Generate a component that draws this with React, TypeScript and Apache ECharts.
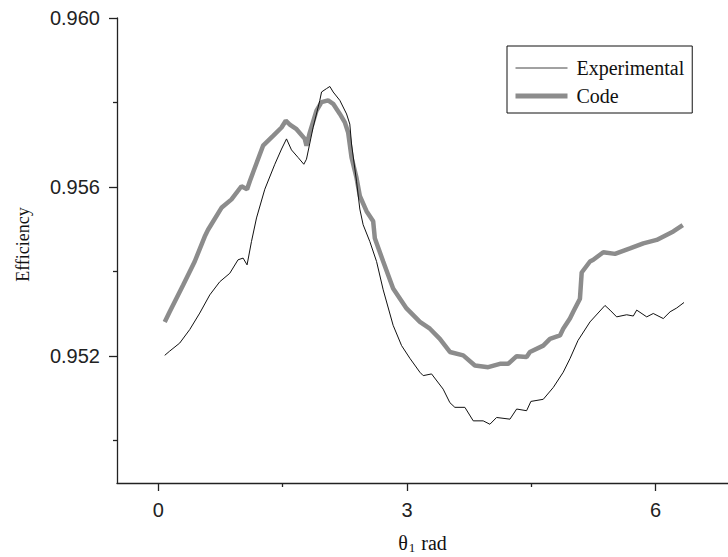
import { useEffect, useRef } from 'react';
import * as echarts from 'echarts';

// Experimental efficiency vs theta_1 (rad)
const expTheta = [
  0.076, 0.136, 0.257, 0.378, 0.499, 0.620, 0.740, 0.861, 0.961, 1.022, 1.070, 1.123,
  1.184, 1.284, 1.405, 1.486, 1.546, 1.606, 1.686, 1.755, 1.787, 1.867, 1.948, 1.969,
  2.029, 2.069, 2.109, 2.190, 2.271, 2.310, 2.331, 2.391, 2.431, 2.471, 2.552, 2.633,
  2.713, 2.833, 2.935, 3.035, 3.156, 3.196, 3.297, 3.437, 3.518, 3.578, 3.699, 3.800,
  3.920, 4.001, 4.082, 4.243, 4.324, 4.444, 4.496, 4.645, 4.766, 4.886, 4.967, 5.064,
  5.209, 5.390, 5.451, 5.531, 5.652, 5.732, 5.773, 5.894, 5.973, 6.094, 6.176, 6.256, 6.344,
];
const expEff = [
  0.95202, 0.95212, 0.95231, 0.95263, 0.95302, 0.95345, 0.95376, 0.95396, 0.95428, 0.95432, 0.95416, 0.95471,
  0.95527, 0.95595, 0.95654, 0.95690, 0.95714, 0.95688, 0.95670, 0.95654, 0.95666, 0.95741, 0.95805, 0.95825,
  0.95833, 0.95838, 0.95825, 0.95805, 0.95773, 0.95749, 0.95702, 0.95614, 0.95548, 0.95511, 0.95471, 0.95424,
  0.95357, 0.95273, 0.95225, 0.95195, 0.95162, 0.95154, 0.95158, 0.95122, 0.95090, 0.95079, 0.95079, 0.95047,
  0.95047, 0.95039, 0.95055, 0.95051, 0.95075, 0.95071, 0.95093, 0.95098, 0.95126, 0.95162, 0.95194, 0.95237,
  0.95281, 0.95320, 0.95309, 0.95293, 0.95298, 0.95295, 0.95309, 0.95293, 0.95301, 0.95289, 0.95305, 0.95314, 0.95327,
];

// Code (model) efficiency vs theta_1 (rad)
const codeTheta = [
  0.076, 0.136, 0.297, 0.438, 0.559, 0.599, 0.761, 0.882, 1.002, 1.070, 1.103, 1.263,
  1.384, 1.486, 1.537, 1.586, 1.667, 1.767, 1.787, 1.827, 1.908, 1.969, 2.048, 2.109,
  2.190, 2.250, 2.290, 2.331, 2.391, 2.431, 2.512, 2.592, 2.612, 2.713, 2.833, 2.995,
  3.156, 3.277, 3.397, 3.518, 3.679, 3.820, 3.981, 4.122, 4.222, 4.324, 4.444, 4.484,
  4.645, 4.726, 4.847, 4.886, 4.967, 5.007, 5.088, 5.109, 5.209, 5.249, 5.370, 5.511,
  5.692, 5.853, 6.014, 6.215, 6.329,
];
const codeEff = [
  0.95281, 0.95305, 0.95368, 0.95424, 0.95483, 0.95499, 0.95551, 0.95571, 0.95602, 0.95595, 0.95614, 0.95698,
  0.95721, 0.95741, 0.95757, 0.95748, 0.95737, 0.95714, 0.95698, 0.95729, 0.95781, 0.95801, 0.95805, 0.95797,
  0.95773, 0.95753, 0.95729, 0.95670, 0.95622, 0.95579, 0.95543, 0.95519, 0.95479, 0.95424, 0.95360, 0.95313,
  0.95281, 0.95265, 0.95241, 0.95210, 0.95202, 0.95178, 0.95174, 0.95182, 0.95182, 0.95200, 0.95198, 0.95210,
  0.95225, 0.95241, 0.95249, 0.95265, 0.95289, 0.95305, 0.95336, 0.95398, 0.95424, 0.95428, 0.95446, 0.95442,
  0.95455, 0.95467, 0.95475, 0.95495, 0.95510,
];

const yLabelTicks = [0.952, 0.956, 0.96];
const yMinorTicks = [0.95, 0.954, 0.958];
const xLabelTicks = [0, 3, 6];
const xMinorTicks = [1.5, 4.5];

const SANS = '"Liberation Sans", Arial, Helvetica, sans-serif';
const SERIF = '"Liberation Serif", "Times New Roman", serif';
const AX = '#222';
const GREY = '#8c8c8c';

export default function App() {
  const ref = useRef<HTMLDivElement>(null);
  useEffect(() => {
    document.body.style.margin = '0';
    const chart = echarts.init(ref.current!, null, { renderer: 'svg' });
    const expData = expTheta.map((x, i) => [x, expEff[i]]);
    const codeData = codeTheta.map((x, i) => [x, codeEff[i]]);
    chart.setOption({
      animation: false,
      backgroundColor: '#fff',
      grid: { left: 117, top: 18, right: 0, bottom: 74, containLabel: false, outerBoundsMode: 'none' },
      legend: {
        data: [
          { name: 'Experimental', itemStyle: { opacity: 0 }, lineStyle: { width: 1, color: '#444' } },
          { name: 'Code', itemStyle: { opacity: 0 }, lineStyle: { width: 5, color: GREY } },
        ],
        orient: 'vertical',
        left: 507,
        top: 46,
        padding: [11, 8, 6, 6],
        itemGap: 6,
        itemWidth: 52,
        itemHeight: 14,
        borderColor: '#111',
        borderWidth: 1,
        borderRadius: 0,
        backgroundColor: '#fff',
        textStyle: { fontFamily: SERIF, fontSize: 20, color: '#111', lineHeight: 22, padding: [0, 0, 0, 4] },
      },
      xAxis: [
        {
          type: 'value',
          min: -0.5,
          max: 6.875,
          name: '{t|θ}{s|1}{t| rad}',
          nameLocation: 'middle',
          nameGap: 48,
          nameTextStyle: {
            rich: {
              t: { fontFamily: SERIF, fontSize: 20, color: '#111' },
              s: { fontFamily: SERIF, fontSize: 13, color: '#111', padding: [10, 1, 0, 1] },
            },
          },
          axisLine: { onZero: false, lineStyle: { color: AX, width: 1.3 } },
          axisTick: { customValues: xLabelTicks, length: 8, lineStyle: { color: AX, width: 1.3 } },
          axisLabel: {
            customValues: xLabelTicks,
            margin: 17,
            fontFamily: SANS,
            fontSize: 20,
            color: '#222',
            formatter: (v: number) => String(Math.round(v)),
          },
          splitLine: { show: false },
        },
        {
          type: 'value',
          min: -0.5,
          max: 6.875,
          position: 'bottom',
          axisLine: { show: false, onZero: false },
          axisTick: { customValues: xMinorTicks, length: 4, lineStyle: { color: AX, width: 1.3 } },
          axisLabel: { show: false },
          splitLine: { show: false },
        },
      ],
      yAxis: [
        {
          type: 'value',
          min: 0.949,
          max: 0.96,
          name: 'Efficiency',
          nameLocation: 'middle',
          nameGap: 85,
          nameTextStyle: { fontFamily: SERIF, fontSize: 18, color: '#111', padding: [0, 0, 0, 12] },
          axisLine: { show: true, onZero: false, lineStyle: { color: AX, width: 1.3 } },
          axisTick: { show: true, customValues: yLabelTicks, length: 8, lineStyle: { color: AX, width: 1.3 } },
          axisLabel: {
            customValues: yLabelTicks,
            margin: 17,
            fontFamily: SANS,
            fontSize: 20,
            color: '#222',
            formatter: (v: number) => v.toFixed(3),
          },
          splitLine: { show: false },
        },
        {
          type: 'value',
          min: 0.949,
          max: 0.96,
          position: 'left',
          axisLine: { show: false, onZero: false },
          axisTick: { show: true, customValues: yMinorTicks, length: 4, lineStyle: { color: AX, width: 1.3 } },
          axisLabel: { show: false },
          splitLine: { show: false },
        },
      ],
      series: [
        {
          name: 'Code',
          type: 'line',
          data: codeData,
          symbol: 'none',
          smooth: false,
          lineStyle: { color: GREY, width: 4.5 },
          itemStyle: { color: GREY },
          z: 2,
        },
        {
          name: 'Experimental',
          type: 'line',
          data: expData,
          symbol: 'none',
          smooth: false,
          lineStyle: { color: '#111', width: 1 },
          itemStyle: { color: '#111' },
          z: 3,
        },
      ],
    });
    return () => chart.dispose();
  }, []);
  return <div ref={ref} style={{ width: 728, height: 557 }} />;
}
